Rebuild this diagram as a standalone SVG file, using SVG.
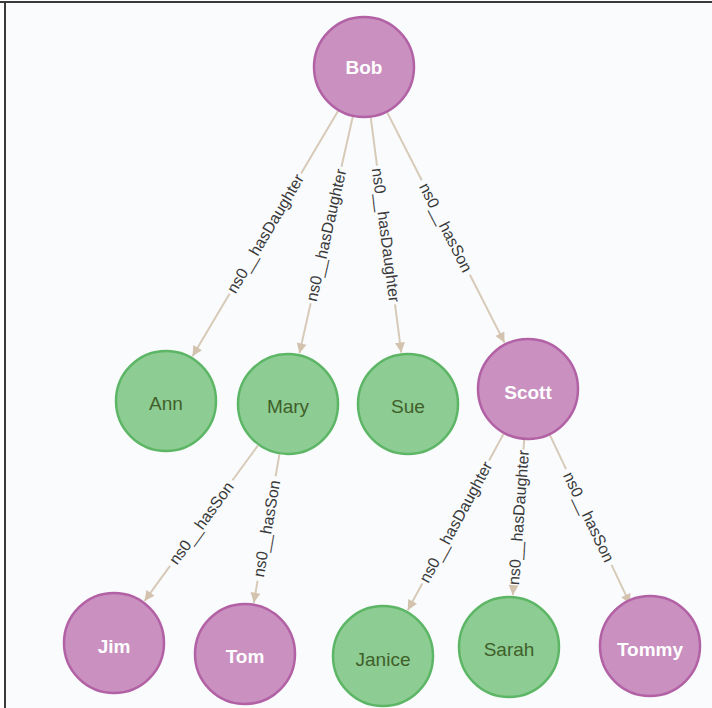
<svg xmlns="http://www.w3.org/2000/svg" width="712" height="708" viewBox="0 0 712 708">
<defs>
<marker id="arr" markerUnits="userSpaceOnUse" viewBox="0 0 10 10" refX="10" refY="5" markerWidth="11" markerHeight="10" orient="auto">
<path d="M0,0 L10,5 L0,10 z" fill="#D3C3AE"/>
</marker>
</defs>
<style>
.bg{fill:#F9FBFD}
.edge line{stroke:#D8CAB8;stroke-width:2}
.edge text{font-family:"Liberation Sans",Arial,sans-serif;font-size:16px;fill:#3a3a3a;text-anchor:middle;dominant-baseline:central}
.p circle{fill:#C990C0;stroke:#B261A5;stroke-width:2.5}
.g circle{fill:#8DCC93;stroke:#5DB665;stroke-width:2.5}
.node text{font-family:"Liberation Sans",Arial,sans-serif;font-size:19px;text-anchor:middle;dominant-baseline:central}
.p text{fill:#FFFFFF;font-weight:bold}
.g text{fill:#40602A}
</style>
<rect x="0" y="0" width="712" height="708" fill="#FFFFFF"/>
<rect class="bg" x="5" y="2" width="707" height="706"/>
<line x1="0" y1="2" x2="712" y2="2" stroke="#3a3a3a" stroke-width="2"/>
<line x1="5" y1="2" x2="5" y2="708" stroke="#3a3a3a" stroke-width="2"/>
<g id="connectors" class="edge">
<g id="e-bob-ann" transform="translate(265.3,233.6) rotate(-59.3)">
<line x1="142.6" y1="0" x2="70" y2="0"/>
<line x1="-70" y1="0" x2="-142.6" y2="0" marker-end="url(#arr)"/>
<text x="0" y="0">ns0__hasDaughter</text>
</g>
<g id="e-bob-mary" transform="translate(326.1,235) rotate(-77.3)">
<line x1="121.3" y1="0" x2="70" y2="0"/>
<line x1="-70" y1="0" x2="-121.3" y2="0" marker-end="url(#arr)"/>
<text x="0" y="0">ns0__hasDaughter</text>
</g>
<g id="e-bob-sue" transform="translate(386,235) rotate(82.6)">
<line x1="-118.5" y1="0" x2="-70" y2="0"/>
<line x1="70" y1="0" x2="118.5" y2="0" marker-end="url(#arr)"/>
<text x="0" y="0">ns0__hasDaughter</text>
</g>
<g id="e-bob-scott" transform="translate(445.8,227.5) rotate(63)">
<line x1="-129.2" y1="0" x2="-53" y2="0"/>
<line x1="53" y1="0" x2="129.2" y2="0" marker-end="url(#arr)"/>
<text x="0" y="0">ns0__hasSon</text>
</g>
<g id="e-mary-jim" transform="translate(201.3,523.1) rotate(-53.9)">
<line x1="96.3" y1="0" x2="53" y2="0"/>
<line x1="-53" y1="0" x2="-96.3" y2="0" marker-end="url(#arr)"/>
<text x="0" y="0">ns0__hasSon</text>
</g>
<g id="e-mary-tom" transform="translate(266.6,528.5) rotate(-80.2)">
<line x1="75.4" y1="0" x2="53" y2="0"/>
<line x1="-53" y1="0" x2="-75.4" y2="0" marker-end="url(#arr)"/>
<text x="0" y="0">ns0__hasSon</text>
</g>
<g id="e-scott-janice" transform="translate(455.7,522) rotate(-61.5)">
<line x1="100.4" y1="0" x2="70" y2="0"/>
<line x1="-70" y1="0" x2="-100.4" y2="0" marker-end="url(#arr)"/>
<text x="0" y="0">ns0__hasDaughter</text>
</g>
<g id="e-scott-sarah" transform="translate(518.5,517.5) rotate(-85.8)">
<line x1="77.9" y1="0" x2="68" y2="0"/>
<line x1="-68" y1="0" x2="-77.9" y2="0" marker-end="url(#arr)"/>
<text x="0" y="0">ns0__hasDaughter</text>
</g>
<g id="e-scott-tommy" transform="translate(588.8,517) rotate(64.6)">
<line x1="-96.4" y1="0" x2="-53" y2="0"/>
<line x1="53" y1="0" x2="96.4" y2="0" marker-end="url(#arr)"/>
<text x="0" y="0">ns0__hasSon</text>
</g>
</g>
<g id="bob" class="node p"><circle cx="364" cy="67" r="50"/><text x="364" y="67">Bob</text></g>
<g id="ann" class="node g"><circle cx="166" cy="401" r="50"/><text x="166" y="403">Ann</text></g>
<g id="mary" class="node g"><circle cx="288" cy="404" r="50"/><text x="288" y="406">Mary</text></g>
<g id="sue" class="node g"><circle cx="408" cy="404" r="50"/><text x="408" y="406">Sue</text></g>
<g id="scott" class="node p"><circle cx="528" cy="389" r="50"/><text x="528" y="392">Scott</text></g>
<g id="jim" class="node p"><circle cx="114" cy="643" r="50"/><text x="114" y="646">Jim</text></g>
<g id="tom" class="node p"><circle cx="245" cy="654" r="50"/><text x="245" y="656">Tom</text></g>
<g id="janice" class="node g"><circle cx="383" cy="656" r="50"/><text x="383" y="659">Janice</text></g>
<g id="sarah" class="node g"><circle cx="509" cy="647" r="50"/><text x="509" y="649">Sarah</text></g>
<g id="tommy" class="node p"><circle cx="650" cy="646" r="50"/><text x="650" y="649">Tommy</text></g>
</svg>
